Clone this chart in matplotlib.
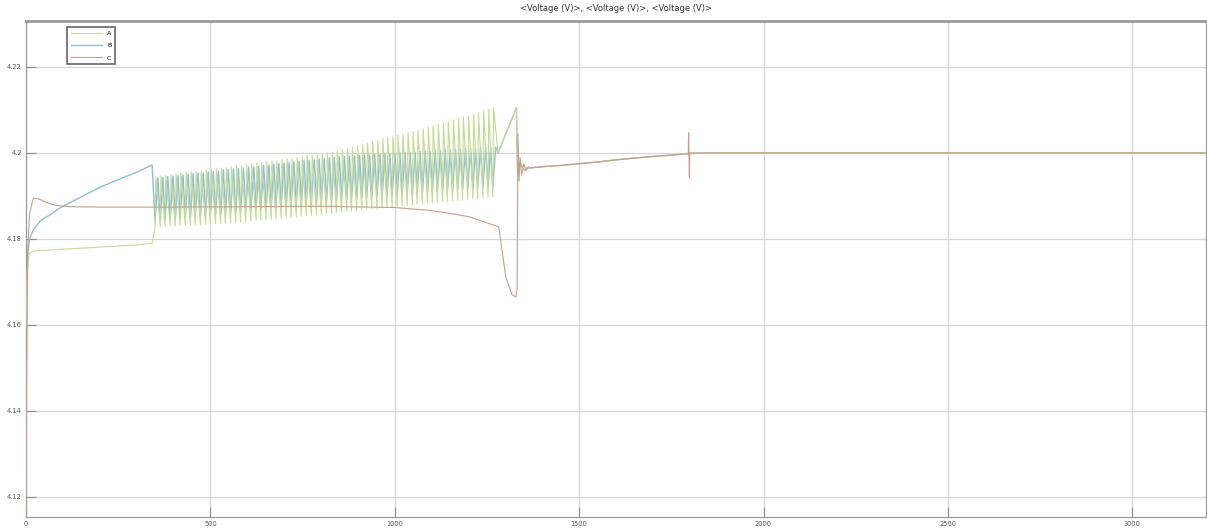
import numpy as np
import matplotlib.pyplot as plt

# start time of each charge / rest cycle in the pulsed section (s)
cycle_t = [350, 364, 377, 391, 405, 418, 432, 446, 459, 473,
           487, 500, 514, 528, 541, 555, 569, 582, 596, 610,
           624, 637, 651, 665, 678, 692, 706, 719, 733, 747,
           760, 774, 788, 801, 815, 829, 842, 856, 870, 883,
           897, 911, 924, 938, 952, 966, 979, 993, 1007, 1020,
           1034, 1048, 1061, 1075, 1089, 1102, 1116, 1130, 1143, 1157,
           1171, 1184, 1198, 1212, 1225, 1239, 1253, 1266]
osc_end = 1280

# cell A: peaks and troughs per cycle (V)
a_top = [4.1945, 4.1947, 4.1948, 4.1950, 4.1951, 4.1953, 4.1954, 4.1956, 4.1957, 4.1959,
         4.1960, 4.1962, 4.1963, 4.1965, 4.1966, 4.1968, 4.1970, 4.1971, 4.1973, 4.1975,
         4.1976, 4.1978, 4.1980, 4.1982, 4.1983, 4.1985, 4.1987, 4.1988, 4.1990, 4.1992,
         4.1994, 4.1995, 4.1997, 4.1999, 4.2000, 4.2002, 4.2005, 4.2008, 4.2011, 4.2014,
         4.2017, 4.2020, 4.2023, 4.2026, 4.2029, 4.2032, 4.2035, 4.2038, 4.2041, 4.2044,
         4.2047, 4.2050, 4.2053, 4.2056, 4.2060, 4.2063, 4.2066, 4.2070, 4.2073, 4.2077,
         4.2080, 4.2084, 4.2087, 4.2091, 4.2094, 4.2098, 4.2101, 4.2105]
a_bot = [4.1828, 4.1829, 4.1829, 4.1830, 4.1830, 4.1831, 4.1832, 4.1832, 4.1833, 4.1833,
         4.1834, 4.1835, 4.1835, 4.1836, 4.1836, 4.1837, 4.1838, 4.1839, 4.1840, 4.1842,
         4.1843, 4.1844, 4.1845, 4.1846, 4.1847, 4.1848, 4.1850, 4.1851, 4.1852, 4.1853,
         4.1854, 4.1855, 4.1856, 4.1857, 4.1859, 4.1860, 4.1861, 4.1862, 4.1864, 4.1865,
         4.1866, 4.1867, 4.1869, 4.1870, 4.1871, 4.1872, 4.1873, 4.1875, 4.1876, 4.1877,
         4.1878, 4.1879, 4.1881, 4.1882, 4.1883, 4.1884, 4.1885, 4.1886, 4.1887, 4.1889,
         4.1890, 4.1891, 4.1892, 4.1893, 4.1894, 4.1895, 4.1897, 4.1898]

# cell B: peaks and troughs per cycle (V)
b_top = [4.1942, 4.1943, 4.1945, 4.1946, 4.1947, 4.1949, 4.1950, 4.1952, 4.1953, 4.1954,
         4.1956, 4.1957, 4.1958, 4.1960, 4.1961, 4.1963, 4.1964, 4.1965, 4.1967, 4.1968,
         4.1969, 4.1971, 4.1972, 4.1974, 4.1975, 4.1976, 4.1978, 4.1979, 4.1980, 4.1982,
         4.1983, 4.1985, 4.1986, 4.1987, 4.1989, 4.1990, 4.1991, 4.1992, 4.1992, 4.1993,
         4.1994, 4.1995, 4.1995, 4.1996, 4.1997, 4.1998, 4.1998, 4.1999, 4.2000, 4.2001,
         4.2001, 4.2002, 4.2003, 4.2004, 4.2004, 4.2005, 4.2006, 4.2007, 4.2007, 4.2008,
         4.2009, 4.2010, 4.2010, 4.2011, 4.2012, 4.2013, 4.2013, 4.2014]
b_bot = [4.1840, 4.1841, 4.1843, 4.1844, 4.1846, 4.1847, 4.1849, 4.1850, 4.1851, 4.1853,
         4.1854, 4.1856, 4.1857, 4.1859, 4.1860, 4.1861, 4.1863, 4.1864, 4.1866, 4.1867,
         4.1869, 4.1870, 4.1871, 4.1873, 4.1874, 4.1876, 4.1877, 4.1879, 4.1880, 4.1881,
         4.1883, 4.1884, 4.1886, 4.1887, 4.1889, 4.1890, 4.1891, 4.1892, 4.1893, 4.1894,
         4.1895, 4.1896, 4.1897, 4.1898, 4.1899, 4.1900, 4.1901, 4.1902, 4.1903, 4.1904,
         4.1905, 4.1906, 4.1907, 4.1908, 4.1909, 4.1910, 4.1911, 4.1912, 4.1913, 4.1914,
         4.1915, 4.1916, 4.1917, 4.1918, 4.1919, 4.1920, 4.1920, 4.1921]

# constant-current part before pulsing
a_pre_t = [0, 3, 8, 20, 100, 200, 300, 342]
a_pre_v = [4.160, 4.172, 4.1765, 4.1772, 4.1776, 4.1781, 4.1786, 4.1790]
b_pre_t = [0, 2, 5, 10, 19, 40, 65, 92, 150, 200, 250, 300, 342]
b_pre_v = [4.166, 4.172, 4.177, 4.180, 4.182, 4.1843, 4.1856, 4.1872, 4.1898,
           4.1920, 4.1938, 4.1955, 4.1972]

# after pulsing (A and B)
post_t = [1280, 1330, 1333, 1340, 1350, 1360]
post_v = [4.2000, 4.2105, 4.1950, 4.1978, 4.1960, 4.1966]

# cell C
c_t = [0, 2, 5, 10, 20, 35, 55, 80, 120, 200, 400, 600, 800, 1000, 1100, 1200,
       1282, 1301, 1318, 1329, 1332, 1334, 1337, 1340, 1344, 1350, 1356, 1362]
c_v = [4.110, 4.150, 4.178, 4.186, 4.1895, 4.1893, 4.1885, 4.1878, 4.1875, 4.1874,
       4.1874, 4.1875, 4.1876, 4.1873, 4.1866, 4.1852, 4.1828, 4.1712, 4.1670, 4.1665,
       4.1690, 4.2045, 4.1935, 4.1990, 4.1948, 4.1975, 4.1958, 4.1968]

# common constant-voltage tail
tail_t = [1365, 1400, 1450, 1500, 1550, 1600, 1650, 1700, 1750, 1790, 1850, 2000, 2500, 3200]
tail_v = [4.1965, 4.1968, 4.1971, 4.1975, 4.1979, 4.1984, 4.1988, 4.1992, 4.1995,
          4.1998, 4.2000, 4.2000, 4.2000, 4.2000]
spike_t = [1796, 1797, 1799, 1800]
spike_v = [4.1998, 4.2047, 4.1942, 4.2000]

# build the pulsed sections
t_next = cycle_t[1:] + [osc_end]
a_t, a_v = list(a_pre_t), list(a_pre_v)
b_t, b_v = list(b_pre_t), list(b_pre_v)
for t0, t1, ah, al, bh, bl in zip(cycle_t, t_next, a_top, a_bot, b_top, b_bot):
    d = t1 - t0
    a_t += [t0, t0 + 0.15 * d]
    a_v += [al, ah]
    b_t += [t0, t0 + 0.55 * d]
    b_v += [bl, bh]
a_t += post_t + tail_t
a_v += post_v + tail_v
b_t += post_t + tail_t
b_v += post_v + tail_v

c_all_t = c_t + [t for t in tail_t if t < spike_t[0]] + spike_t + [t for t in tail_t if t > spike_t[-1]]
c_all_v = c_v + [v for t, v in zip(tail_t, tail_v) if t < spike_t[0]] + spike_v + \
          [v for t, v in zip(tail_t, tail_v) if t > spike_t[-1]]

fig = plt.figure(figsize=(12.07, 5.31), dpi=100)
ax = fig.add_axes([26 / 1207, 14 / 531, 1180 / 1207, 496 / 531])

ax.plot(a_t, a_v, color='#c5da94', lw=0.8, label='A', zorder=3)
ax.plot(b_t, b_v, color='#8dbdd8', lw=1.0, label='B', zorder=2)
ax.plot(c_all_t, c_all_v, color='#c4a08c', lw=0.8, label='C', zorder=4)

ax.set_xlim(0, 3200)
ax.set_ylim(4.1153, 4.2307)
ax.set_xticks([0, 500, 1000, 1500, 2000, 2500, 3000])
ax.set_xticklabels(['0', '500', '1000', '1500', '2000', '2500', '3000'])
ax.set_yticks([4.12, 4.14, 4.16, 4.18, 4.2, 4.22])
ax.set_yticklabels(['4.12', '4.14', '4.16', '4.18', '4.2', '4.22'])
ax.tick_params(direction='in', length=7, width=0.8, color='#888888',
               labelsize=4.8, labelcolor='#555555', pad=3)
ax.grid(True, color='#d6d6d6', lw=0.9)
for s in ax.spines.values():
    s.set_color('#999999')
    s.set_linewidth(0.9)
ax.spines['top'].set_linewidth(2)

ax.set_title('<Voltage (V)>, <Voltage (V)>, <Voltage (V)>', fontsize=6,
             color='#333333', pad=7)

leg = ax.legend(loc='upper left', bbox_to_anchor=(0.0347, 0.988), borderaxespad=0,
                fontsize=4.5, handlelength=5, fancybox=False, edgecolor='#666666',
                framealpha=1, labelspacing=1.1, handletextpad=0.8, borderpad=0.6)
leg.get_frame().set_linewidth(1.2)

fig.savefig('out.png', dpi=100)
